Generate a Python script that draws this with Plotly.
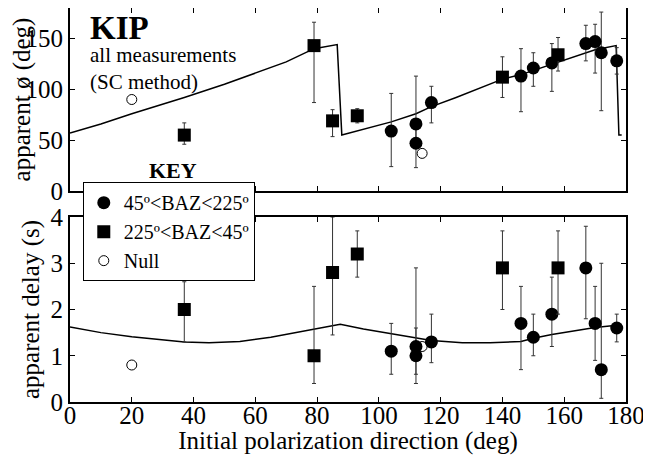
import plotly.graph_objects as go

# ---------------- data ----------------
# 45º<BAZ<225º (filled circles)
circ_x = [104, 112, 112, 117, 146, 150, 156, 167, 170, 172, 177]
circ_phi = [59, 66, 47, 87, 113, 121, 126, 145, 147, 136, 128]
circ_phi_plus = [37, 47, 20, 16, 27, 15, 19, 18, 17, 40, 13]
circ_phi_minus = [35, 20, 24, 20, 35, 18, 28, 17, 31, 57, 13]
circ_dt = [1.1, 1.2, 1.0, 1.3, 1.7, 1.4, 1.9, 2.9, 1.7, 0.7, 1.6]
circ_dt_plus = [0.6, 1.7, 0.6, 0.6, 0.8, 0.5, 0.8, 0.9, 0.8, 2.3, 0.3]
circ_dt_minus = [0.5, 0.6, 0.6, 0.45, 1.0, 0.4, 0.7, 1.1, 0.8, 0.62, 0.3]

# 225º<BAZ<45º (filled squares)
sq_x = [37, 79, 85, 93, 140, 158]
sq_phi = [55, 143, 69, 74, 112, 134]
sq_phi_plus = [12, 23, 11, 7, 20, 17]
sq_phi_minus = [9, 56, 15.5, 7, 20, 16]
sq_dt = [2.0, 1.0, 2.8, 3.2, 2.9, 2.9]
sq_dt_plus = [0.6, 1.5, 1.2, 0.5, 0.8, 0.8]
sq_dt_minus = [0.7, 0.6, 1.35, 0.5, 0.9, 1.0]

# Nulls (open circles)
null_x = [20, 114]
null_phi = [90, 37]
null_dt = [0.8, 1.2]

# model curves
phi_line_x = [0, 10, 20, 30, 37, 50, 60, 70, 79, 86.5, 88, 95, 104, 112, 117, 125, 140, 146, 156, 165, 170, 176.8, 177.7, 178.6]
phi_line_y = [57, 66, 76, 85, 92, 105, 116, 127, 140, 144, 55, 61, 68, 76, 83, 92, 110, 114.5, 125, 134, 139, 143, 55, 55]
dt_line_x = [0, 10, 20, 30, 37, 45, 55, 65, 79, 85, 87.5, 95, 104, 112, 117, 127, 136, 146, 150, 156, 165, 170, 177, 178.5]
dt_line_y = [1.62, 1.5, 1.41, 1.34, 1.30, 1.28, 1.31, 1.40, 1.57, 1.65, 1.68, 1.58, 1.48, 1.38, 1.33, 1.28, 1.28, 1.31, 1.38, 1.46, 1.55, 1.61, 1.66, 1.66]

x_ticks = [0, 20, 40, 60, 80, 100, 120, 140, 160, 180]
phi_ticks = [0, 50, 100, 150]
dt_ticks = [0, 1, 2, 3, 4]

FONT = "Liberation Serif"

fig = go.Figure()

def err(plus, minus):
    return dict(type="data", symmetric=False, array=plus, arrayminus=minus,
                color="#333333", thickness=1, width=2)

# top panel
fig.add_trace(go.Scatter(x=phi_line_x, y=phi_line_y, mode="lines",
                         line=dict(color="black", width=1.5), showlegend=False,
                         xaxis="x", yaxis="y"))
fig.add_trace(go.Scatter(x=circ_x, y=circ_phi, mode="markers", name="45º<BAZ<225º",
                         marker=dict(symbol="circle", size=13, color="black"),
                         error_y=err(circ_phi_plus, circ_phi_minus),
                         xaxis="x", yaxis="y", legendrank=1))
fig.add_trace(go.Scatter(x=sq_x, y=sq_phi, mode="markers", name="225º<BAZ<45º",
                         marker=dict(symbol="square", size=13, color="black"),
                         error_y=err(sq_phi_plus, sq_phi_minus),
                         xaxis="x", yaxis="y", legendrank=2))
fig.add_trace(go.Scatter(x=null_x, y=null_phi, mode="markers", name="Null",
                         marker=dict(symbol="circle-open", size=10, color="black",
                                     line=dict(width=1)),
                         xaxis="x", yaxis="y", legendrank=3))

# bottom panel
fig.add_trace(go.Scatter(x=dt_line_x, y=dt_line_y, mode="lines",
                         line=dict(color="black", width=1.5), showlegend=False,
                         xaxis="x2", yaxis="y2"))
fig.add_trace(go.Scatter(x=circ_x, y=circ_dt, mode="markers", showlegend=False,
                         marker=dict(symbol="circle", size=13, color="black"),
                         error_y=err(circ_dt_plus, circ_dt_minus),
                         xaxis="x2", yaxis="y2"))
fig.add_trace(go.Scatter(x=sq_x, y=sq_dt, mode="markers", showlegend=False,
                         marker=dict(symbol="square", size=13, color="black"),
                         error_y=err(sq_dt_plus, sq_dt_minus),
                         xaxis="x2", yaxis="y2"))
fig.add_trace(go.Scatter(x=null_x, y=null_dt, mode="markers", showlegend=False,
                         marker=dict(symbol="circle-open", size=10, color="black",
                                     line=dict(width=1)),
                         xaxis="x2", yaxis="y2"))

axis_common = dict(showline=True, linecolor="black", linewidth=2, mirror="ticks",
                   ticks="inside", ticklen=5, tickwidth=1, tickcolor="black",
                   showgrid=False, zeroline=False, automargin=False,
                   tickfont=dict(family=FONT, size=25, color="black"))

fig.update_layout(
    width=643, height=447,
    margin=dict(l=62, r=25, t=0, b=53),
    paper_bgcolor="white", plot_bgcolor="white",
    font=dict(family=FONT, color="black"),
    xaxis=dict(domain=[0, 1], anchor="y", range=[0, 180], tickvals=x_ticks,
               showticklabels=False, **axis_common),
    yaxis=dict(domain=[0.5355, 1], anchor="x", range=[0, 180], tickvals=phi_ticks,
               title=dict(text="apparent ø (deg)", font=dict(family=FONT, size=25), standoff=4),
               **axis_common),
    xaxis2=dict(domain=[0, 1], anchor="y2", range=[0, 180], tickvals=x_ticks,
                ticklabelstandoff=-10,
                title=dict(text="Initial polarization direction (deg)",
                           font=dict(family=FONT, size=25), standoff=15),
                **axis_common),
    yaxis2=dict(domain=[0, 0.4695], anchor="x2", range=[0, 4], tickvals=dt_ticks,
                title=dict(text="apparent delay (s)", font=dict(family=FONT, size=25), standoff=4),
                **axis_common),
    legend=dict(x=0.023, y=0.558, xanchor="left", yanchor="top",
                bgcolor="white", bordercolor="black", borderwidth=1,
                font=dict(family=FONT, size=20, color="black"),
                itemwidth=30, tracegroupgap=0),
    showlegend=True,
)

fig.add_annotation(text="<b>KIP</b>", x=0.032, y=0.949, xref="paper", yref="paper",
                   xanchor="left", yanchor="middle", showarrow=False,
                   font=dict(family=FONT, size=33, color="black"))
fig.add_annotation(text="all measurements<br>(SC method)", x=0.032, y=0.847,
                   xref="paper", yref="paper", align="left",
                   xanchor="left", yanchor="middle", showarrow=False,
                   font=dict(family=FONT, size=21, color="black"))
fig.add_annotation(text="<b>KEY</b>", x=0.185, y=0.5880, xref="paper", yref="paper",
                   xanchor="center", yanchor="middle", showarrow=False,
                   font=dict(family=FONT, size=22, color="black"))

fig.write_html("out.html")
